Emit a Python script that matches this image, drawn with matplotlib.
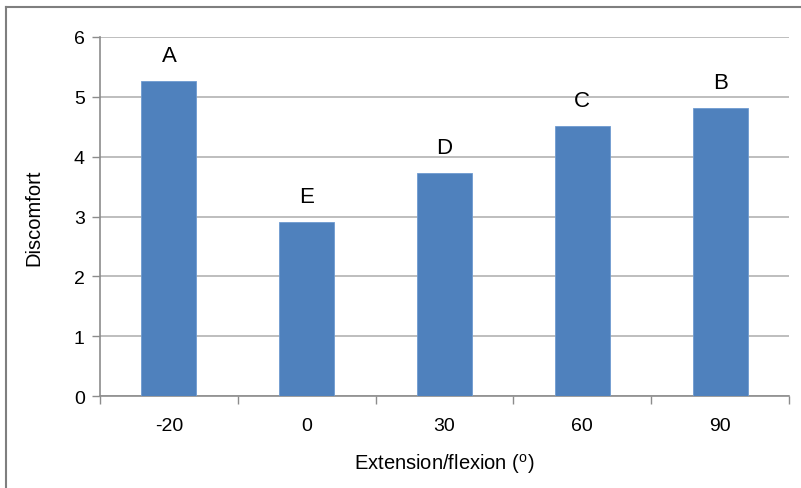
import numpy as np
import matplotlib.pyplot as plt
from matplotlib.lines import Line2D

plt.rcParams['font.family'] = ['Liberation Sans', 'DejaVu Sans']
plt.rcParams['mathtext.fontset'] = 'custom'
plt.rcParams['mathtext.rm'] = 'Liberation Sans'

# 資料
angles = ['-20', '0', '30', '60', '90']
discomfort = [5.26, 2.91, 3.73, 4.52, 4.81]
groups = ['A', 'E', 'D', 'C', 'B']

BAR_COLOR = '#4F81BD'
GRID_COLOR = '#b3b3b3'
AXIS_COLOR = '#8c8c8c'

fig = plt.figure(figsize=(8.01, 4.89), dpi=100)
ax = fig.add_axes([100 / 801, 1 - 397 / 489, 689 / 801, 359 / 489])

x = np.arange(len(angles))
ax.bar(x, discomfort, width=0.4, color=BAR_COLOR, edgecolor='#6f9bd0',
       linewidth=0.6, zorder=3)

for xi, v, g in zip(x, discomfort, groups):
    ax.text(xi, v + 0.25, g, ha='center', va='bottom', fontsize=16)

ax.set_xlim(-0.5, len(angles) - 0.5)
ax.set_ylim(0, 6)
ax.set_yticks(range(0, 7))
ax.set_xticks(x)
ax.set_xticklabels(angles)
ax.set_xticks(np.arange(-0.5, len(angles)), minor=True)
ax.tick_params(axis='x', which='major', length=0, pad=15, labelsize=14)
ax.tick_params(axis='x', which='minor', length=6, color=AXIS_COLOR, width=1)
ax.tick_params(axis='y', length=6, color=AXIS_COLOR, width=1, pad=5,
               labelsize=14)

ax.yaxis.grid(True, color=GRID_COLOR, linewidth=1.2, zorder=0)
for s in ['top', 'right']:
    ax.spines[s].set_visible(False)
for s in ['left', 'bottom']:
    ax.spines[s].set_color(AXIS_COLOR)
    ax.spines[s].set_linewidth(1.2)

ax.set_xlabel(r'Extension/flexion ($^\mathrm{o}$)', fontsize=14.5, labelpad=12)
ax.set_ylabel('Discomfort', fontsize=14.5, labelpad=22)

# 外框（只看得到左、上兩邊）
fig.add_artist(Line2D([6 / 801, 6 / 801], [0, 1 - 8 / 489],
                      transform=fig.transFigure, color='#7f7f7f', lw=1.5))
fig.add_artist(Line2D([6 / 801, 1], [1 - 8 / 489, 1 - 8 / 489],
                      transform=fig.transFigure, color='#7f7f7f', lw=1.5))

fig.savefig('out.png', dpi=100)
